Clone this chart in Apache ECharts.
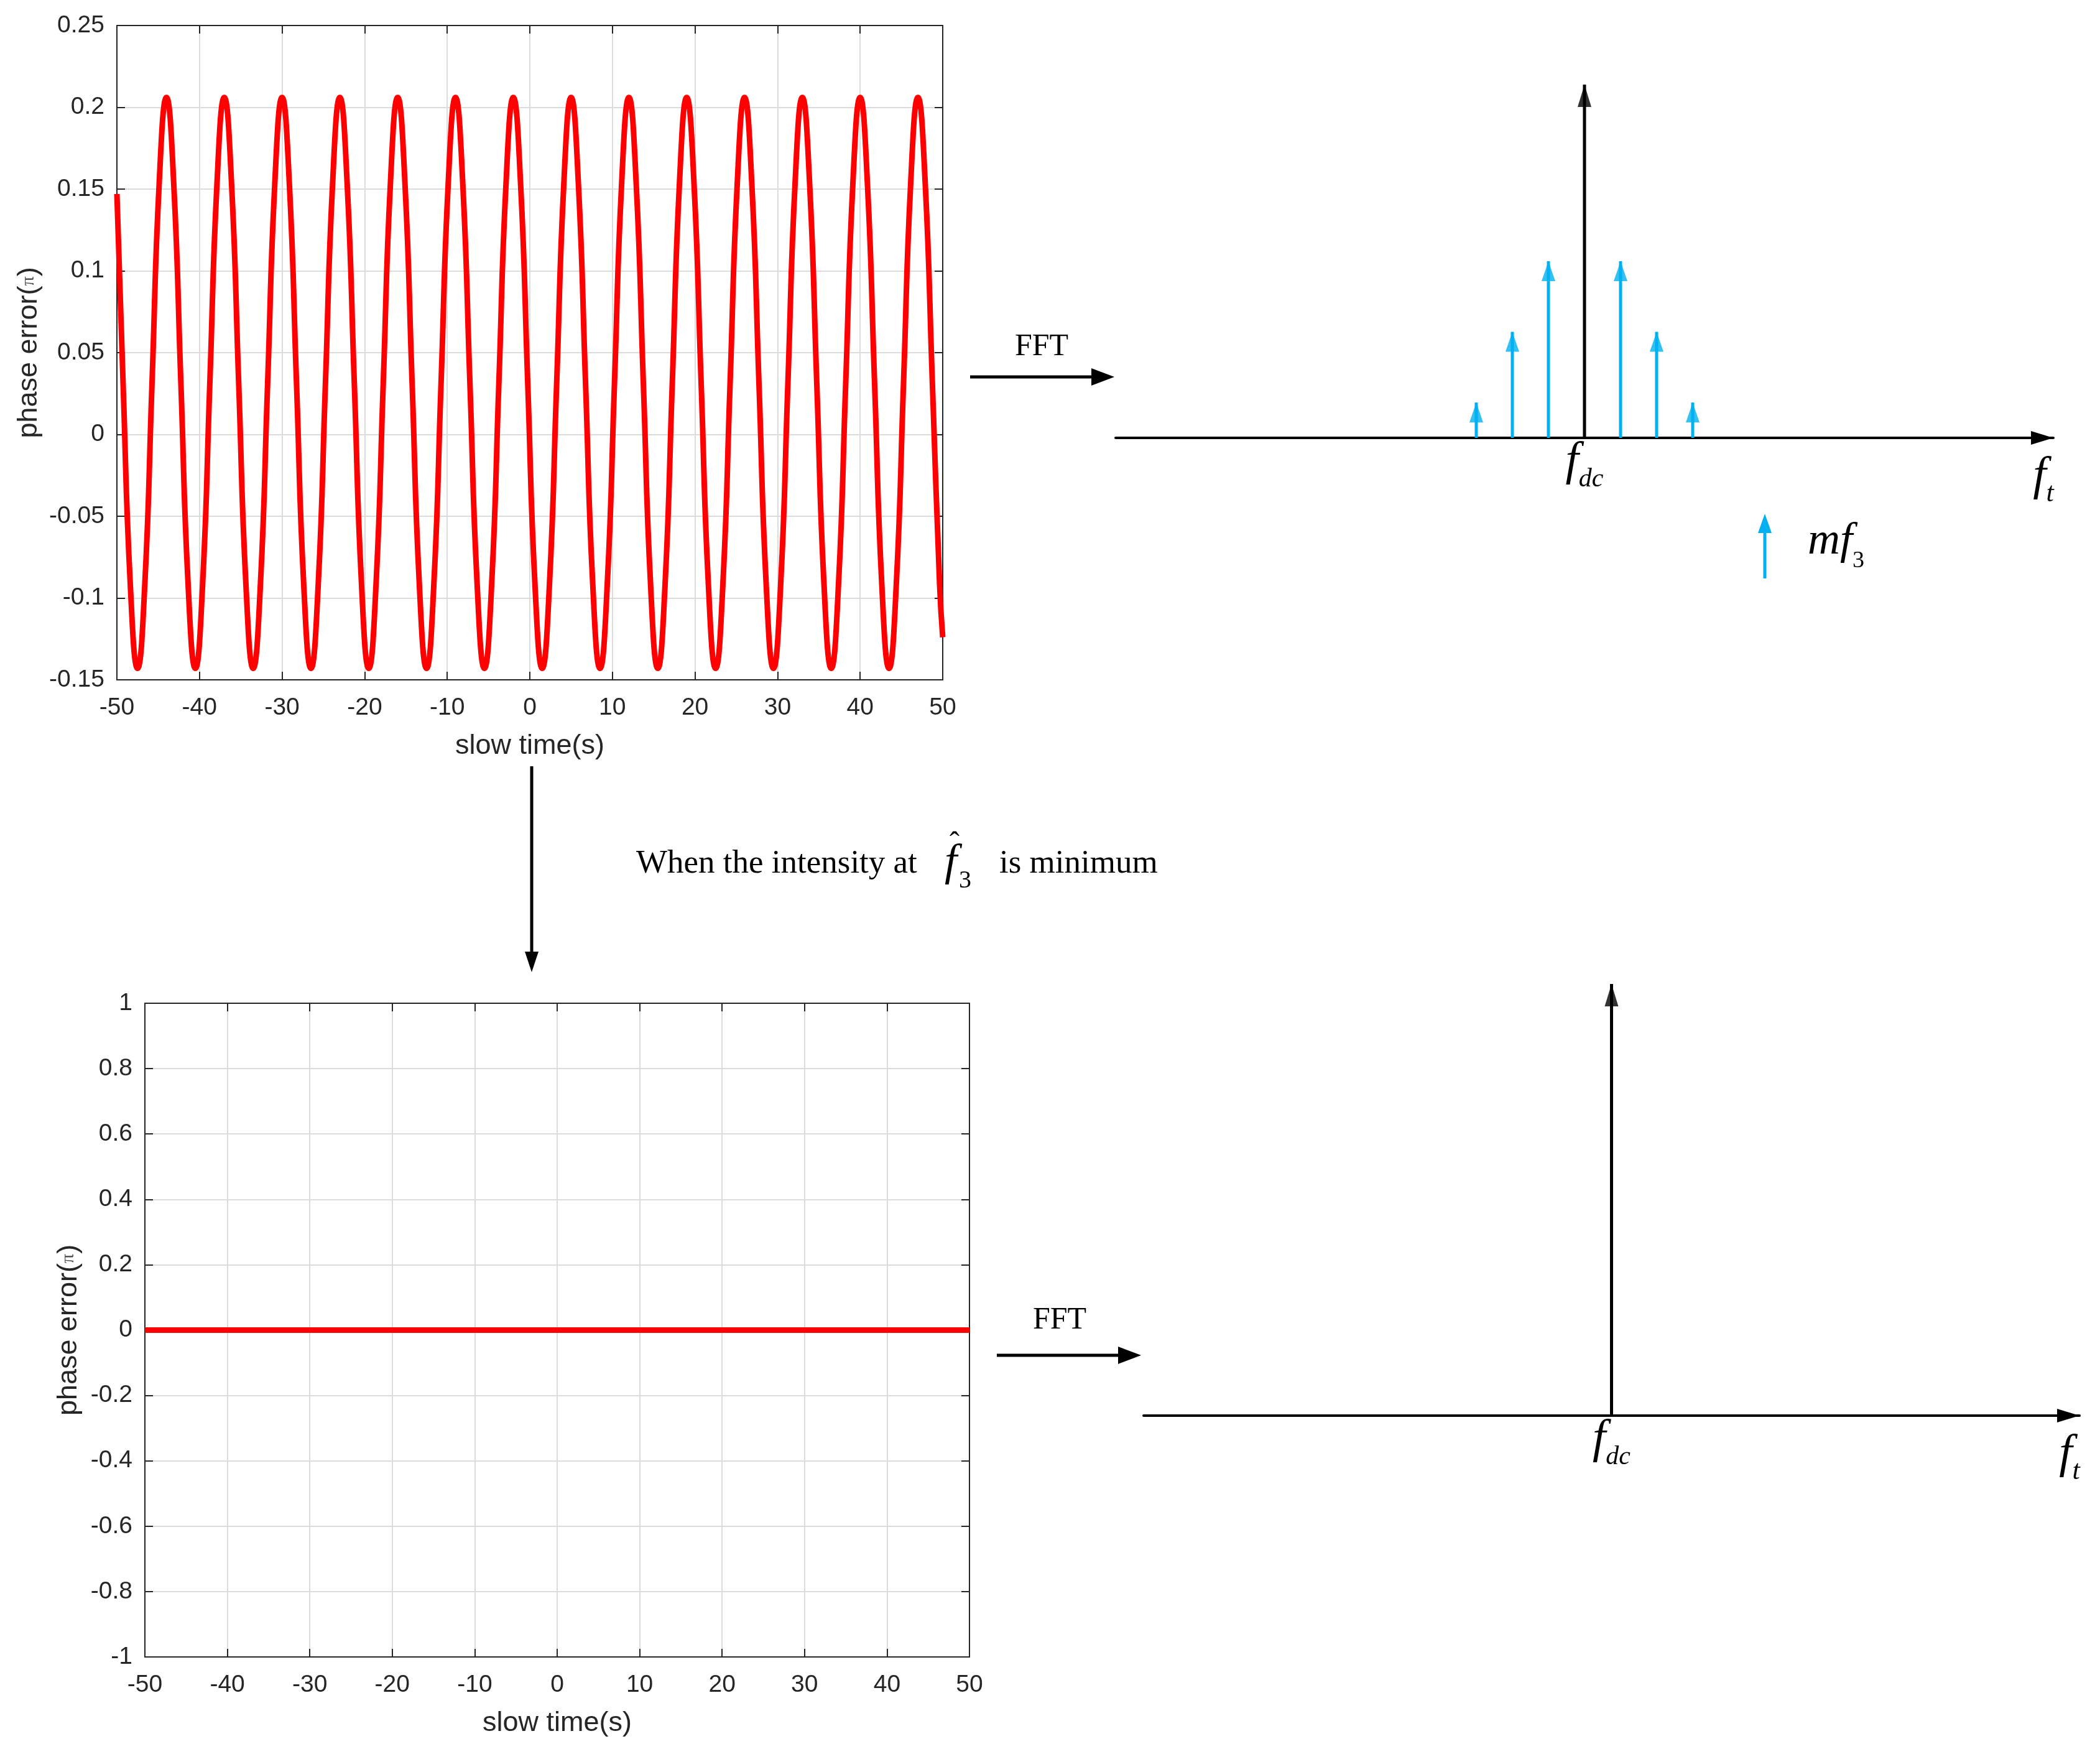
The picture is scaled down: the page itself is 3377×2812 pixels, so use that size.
<!DOCTYPE html>
<html>
<head>
<meta charset="utf-8">
<script src="https://cdn.jsdelivr.net/npm/echarts@6/dist/echarts.min.js"></script>
<style>
  html, body { margin: 0; padding: 0; background: #fff; }
  #main { width: 3377px; height: 2812px; }
</style>
</head>
<body>
<div id="main"></div>
<script>
// phase error before compensation (s, pi)
var slowTime = [
  -50,
  -49.25, -48.375, -47.5, -46.625, -45.75, -44.875, -44, -43.125,
  -42.25, -41.375, -40.5, -39.625, -38.75, -37.875, -37, -36.125,
  -35.25, -34.375, -33.5, -32.625, -31.75, -30.875, -30, -29.125,
  -28.25, -27.375, -26.5, -25.625, -24.75, -23.875, -23, -22.125,
  -21.25, -20.375, -19.5, -18.625, -17.75, -16.875, -16, -15.125,
  -14.25, -13.375, -12.5, -11.625, -10.75, -9.875, -9, -8.125,
  -7.25, -6.375, -5.5, -4.625, -3.75, -2.875, -2, -1.125,
  -0.25, 0.625, 1.5, 2.375, 3.25, 4.125, 5, 5.875,
  6.75, 7.625, 8.5, 9.375, 10.25, 11.125, 12, 12.875,
  13.75, 14.625, 15.5, 16.375, 17.25, 18.125, 19, 19.875,
  20.75, 21.625, 22.5, 23.375, 24.25, 25.125, 26, 26.875,
  27.75, 28.625, 29.5, 30.375, 31.25, 32.125, 33, 33.875,
  34.75, 35.625, 36.5, 37.375, 38.25, 39.125, 40, 40.875,
  41.75, 42.625, 43.5, 44.375, 45.25, 46.125, 47, 47.875,
  48.75, 49.625, 50
];
var phaseErr = [
  0.147,
  0.031, -0.092, -0.143, -0.092, 0.031, 0.154, 0.206, 0.154,
  0.031, -0.092, -0.143, -0.092, 0.031, 0.154, 0.206, 0.154,
  0.031, -0.092, -0.143, -0.092, 0.031, 0.154, 0.206, 0.154,
  0.031, -0.092, -0.143, -0.092, 0.031, 0.154, 0.206, 0.154,
  0.031, -0.092, -0.143, -0.092, 0.031, 0.154, 0.206, 0.154,
  0.031, -0.092, -0.143, -0.092, 0.031, 0.154, 0.206, 0.154,
  0.031, -0.092, -0.143, -0.092, 0.031, 0.154, 0.206, 0.154,
  0.031, -0.092, -0.143, -0.092, 0.031, 0.154, 0.206, 0.154,
  0.031, -0.092, -0.143, -0.092, 0.031, 0.154, 0.206, 0.154,
  0.031, -0.092, -0.143, -0.092, 0.031, 0.154, 0.206, 0.154,
  0.031, -0.092, -0.143, -0.092, 0.031, 0.154, 0.206, 0.154,
  0.031, -0.092, -0.143, -0.092, 0.031, 0.154, 0.206, 0.154,
  0.031, -0.092, -0.143, -0.092, 0.031, 0.154, 0.206, 0.154,
  0.031, -0.092, -0.143, -0.092, 0.031, 0.154, 0.206, 0.154,
  0.031, -0.092, -0.124
];

// after compensation
var compTime = [-50, 50];
var compErr = [0, 0];

// spectrum sketches (frequency in multiples of f3 around fdc)
var sideFreq = [-3, -2, -1, 1, 2, 3];
var sideAmp = [1, 3, 5, 5, 3, 1];
var dcFreq = [0];
var dcAmp = [10];
var dcAmpComp = [10];

function pairs(xs, ys) {
  return xs.map(function (x, i) { return [x, ys[i]]; });
}

var tickColor = '#262626';
var sans = 'Liberation Sans';
var serif = 'Liberation Serif';

function timeAxis(grid, pos, main) {
  return {
    type: 'value', gridIndex: grid, position: pos,
    min: -50, max: 50, interval: 10,
    axisLine: { show: true, onZero: false, lineStyle: { color: tickColor, width: 2 } },
    axisTick: { show: true, inside: true, length: 13, lineStyle: { color: tickColor, width: 2 } },
    axisLabel: { show: main, margin: 26, fontSize: 39, color: tickColor, fontFamily: sans },
    splitLine: { show: main, lineStyle: { color: '#dcdcdc', width: 2 } },
    name: main ? 'slow time(s)' : '',
    nameLocation: 'middle', nameGap: 84,
    nameTextStyle: { fontSize: 45, color: tickColor, fontFamily: sans }
  };
}

function errAxis(grid, pos, main, min, max, step, gap) {
  return {
    type: 'value', gridIndex: grid, position: pos,
    min: min, max: max, interval: step,
    axisLine: { show: true, onZero: false, lineStyle: { color: tickColor, width: 2 } },
    axisTick: { show: true, inside: true, length: 13, lineStyle: { color: tickColor, width: 2 } },
    axisLabel: { show: main, margin: 20, fontSize: 39, color: tickColor, fontFamily: sans },
    splitLine: { show: main, lineStyle: { color: '#dcdcdc', width: 2 } },
    name: main ? 'phase error({p|π})' : '',
    nameLocation: 'middle', nameGap: gap,
    nameTextStyle: {
      fontSize: 45, color: tickColor, fontFamily: sans,
      rich: { p: { fontSize: 30, color: '#555', fontFamily: serif } }
    }
  };
}

var mathRich = {
  f: { fontSize: 76, fontFamily: serif, fontStyle: 'italic', color: '#000' },
  dc: { fontSize: 42, fontFamily: serif, fontStyle: 'italic', color: '#000', verticalAlign: 'bottom', height: 20 },
  t: { fontSize: 44, fontFamily: serif, fontStyle: 'italic', color: '#000', verticalAlign: 'bottom', height: 22 }
};

function freqAxis(grid) {
  return {
    type: 'value', gridIndex: grid, position: 'bottom',
    min: -13, max: 13, interval: 13,
    axisLine: {
      show: true, onZero: false,
      symbol: ['none', 'triangle'], symbolSize: [22, 36], symbolOffset: [0, -18],
      lineStyle: { color: '#000', width: 4 }
    },
    axisTick: { show: false },
    splitLine: { show: false },
    axisLabel: {
      margin: 1,
      formatter: function (v) { return v === 0 ? '{f|f}{dc|dc}' : ''; },
      rich: mathRich
    },
    name: '{f|f}{t|t}',
    nameLocation: 'end', nameGap: -16,
    nameTextStyle: { align: 'center', verticalAlign: 'top', padding: [25, 0, 0, 0], rich: mathRich }
  };
}

function ampAxis(grid) {
  return { type: 'value', gridIndex: grid, min: 0, max: 10, show: false };
}

function stems(name, grid, xs, ys, color, head) {
  return [
    {
      name: name, type: 'bar', xAxisIndex: grid, yAxisIndex: grid,
      barWidth: 5, barGap: '-100%', silent: true,
      itemStyle: { color: color },
      data: pairs(xs, ys)
    },
    {
      name: name + ' head', type: 'scatter', xAxisIndex: grid, yAxisIndex: grid,
      symbol: 'triangle', symbolSize: head, symbolOffset: [0, '50%'], silent: true,
      itemStyle: { color: color },
      data: pairs(xs, ys)
    }
  ];
}

var chart = echarts.init(document.getElementById('main'));

var option = {
  animation: false,
  backgroundColor: '#fff',
  grid: [
    { left: 188, top: 41, width: 1328, height: 1052 },
    { left: 1794, top: 136, width: 1508, height: 568 },
    { left: 233, top: 1613, width: 1326, height: 1051 },
    { left: 1839, top: 1582, width: 1505, height: 694 }
  ],
  xAxis: [
    timeAxis(0, 'bottom', true),
    timeAxis(0, 'top', false),
    freqAxis(1),
    timeAxis(2, 'bottom', true),
    timeAxis(2, 'top', false),
    freqAxis(3)
  ],
  yAxis: [
    errAxis(0, 'left', true, -0.15, 0.25, 0.05, 119),
    errAxis(0, 'right', false, -0.15, 0.25, 0.05, 0),
    ampAxis(1),
    errAxis(2, 'left', true, -1, 1, 0.2, 100),
    errAxis(2, 'right', false, -1, 1, 0.2, 0),
    ampAxis(3)
  ],
  legend: {
    left: 2822, top: 821,
    itemWidth: 22, itemHeight: 104,
    selectedMode: false,
    data: [{ name: 'mf3', icon: 'path://M11,0L22,31L13.5,31L13.5,104L8.5,104L8.5,31L0,31Z' }],
    formatter: function () { return '{m|mf}{s|3}'; },
    textStyle: {
      rich: {
        m: { fontSize: 72, fontFamily: serif, fontStyle: 'italic', color: '#000', padding: [0, 0, 14, 53] },
        s: { fontSize: 38, fontFamily: serif, color: '#000', verticalAlign: 'bottom' }
      }
    }
  },
  series: [
    {
      name: 'before', type: 'line', xAxisIndex: 0, yAxisIndex: 0,
      smooth: true, symbol: 'none', silent: true,
      lineStyle: { color: '#ff0000', width: 9 },
      data: pairs(slowTime, phaseErr)
    },
    {
      name: 'after', type: 'line', xAxisIndex: 3, yAxisIndex: 3,
      symbol: 'none', silent: true,
      lineStyle: { color: '#ff0000', width: 9 },
      data: pairs(compTime, compErr)
    }
  ]
    .concat(stems('mf3', 2, sideFreq, sideAmp, '#00b0f0', [22, 32]))
    .concat(stems('dc', 2, dcFreq, dcAmp, '#000', [22, 36]))
    .concat(stems('dc2', 5, dcFreq, dcAmpComp, '#000', [22, 36])),
  graphic: [
    // FFT arrows
    { type: 'text', x: 1675, y: 558, style: { text: 'FFT', fontSize: 50, fontFamily: serif, fill: '#000', align: 'center', verticalAlign: 'middle' } },
    { type: 'line', shape: { x1: 1560, y1: 606, x2: 1770, y2: 606 }, style: { stroke: '#000', lineWidth: 5 } },
    { type: 'polygon', shape: { points: [[1792, 606], [1755, 592], [1755, 620]] }, style: { fill: '#000' } },
    { type: 'text', x: 1704, y: 2123, style: { text: 'FFT', fontSize: 50, fontFamily: serif, fill: '#000', align: 'center', verticalAlign: 'middle' } },
    { type: 'line', shape: { x1: 1603, y1: 2179, x2: 1813, y2: 2179 }, style: { stroke: '#000', lineWidth: 5 } },
    { type: 'polygon', shape: { points: [[1835, 2179], [1798, 2165], [1798, 2193]] }, style: { fill: '#000' } },
    // downward arrow
    { type: 'line', shape: { x1: 855, y1: 1232, x2: 855, y2: 1540 }, style: { stroke: '#000', lineWidth: 5 } },
    { type: 'polygon', shape: { points: [[855, 1563], [844, 1530], [866, 1530]] }, style: { fill: '#000' } },
    // caption
    { type: 'text', x: 1023, y: 1389, style: { text: 'When the intensity at', fontSize: 53, fontFamily: serif, fill: '#000', align: 'left', verticalAlign: 'middle' } },
    { type: 'text', x: 1519, y: 1388, style: { text: 'f', fontSize: 72, fontFamily: serif, fontStyle: 'italic', fill: '#000', align: 'left', verticalAlign: 'middle' } },
    { type: 'text', x: 1535, y: 1358, style: { text: 'ˆ', fontSize: 48, fontFamily: serif, fill: '#000', align: 'center', verticalAlign: 'middle' } },
    { type: 'text', x: 1542, y: 1416, style: { text: '3', fontSize: 40, fontFamily: serif, fill: '#000', align: 'left', verticalAlign: 'middle' } },
    { type: 'text', x: 1607, y: 1389, style: { text: 'is minimum', fontSize: 53, fontFamily: serif, fill: '#000', align: 'left', verticalAlign: 'middle' } }
  ]
};

chart.setOption(option);
</script>
</body>
</html>
